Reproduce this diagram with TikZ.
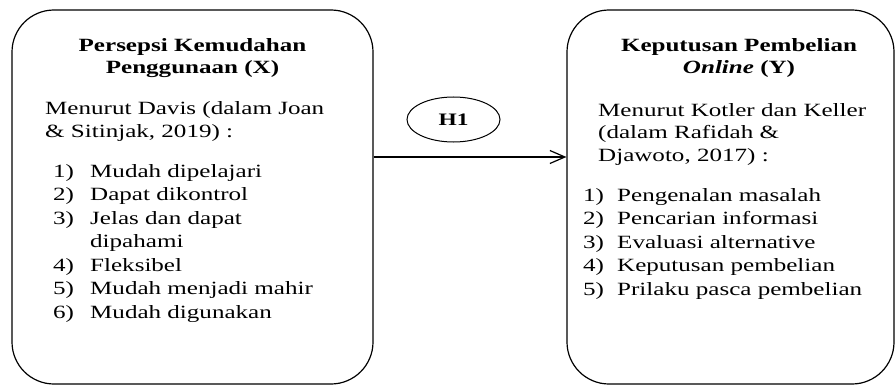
\documentclass[tikz,border=0pt]{standalone}
\usepackage{fontspec}
\setmainfont[FakeStretch=1.34]{Liberation Serif}
\usetikzlibrary{arrows.meta,shapes.geometric}
\tikzset{
  boxstyle/.style={draw=black, line width=1.2pt, rounded corners=42pt, inner sep=0pt},
  txt/.style={anchor=base west, inner sep=0pt, font=\fontsize{18.7}{23.4}\selectfont},
  ttl/.style={anchor=base, inner sep=0pt, font=\fontsize{18.7}{23.4}\selectfont\bfseries},
  hyp/.style={draw=black, line width=1pt, ellipse, minimum width=93pt, minimum height=45pt, inner sep=0pt, font=\fontsize{17.5}{17.5}\selectfont\bfseries},
  arr/.style={line width=1.2pt, -{Straight Barb[length=15pt,width=13pt,line width=1.2pt]}}
}
\begin{document}
\begin{tikzpicture}[x=1pt,y=-1pt]
\useasboundingbox[fill=white] (0,0) rectangle (896,385);
% boxes
\node[boxstyle, minimum width=361pt, minimum height=374pt] (boxX) at (192.5,197) {};
\node[boxstyle, minimum width=327pt, minimum height=374pt] (boxY) at (730.5,197) {};
% hypothesis
\node[hyp] (h1) at (453.5,119.5) {H1};
\coordinate (ar) at (0,157);
\draw[arr] (boxX.east |- ar) -- (boxY.west |- ar);
% left text
\node[ttl] (xt1) at (192.5,52) {Persepsi Kemudahan};
\node[ttl] (xt2) at (192.5,74) {Penggunaan (X)};
\node[txt] (xa1) at (45,115) {Menurut Davis (dalam Joan};
\node[txt] (xa2) at (45,138) {\& Sitinjak, 2019) :};
\node[txt] (xn1) at (53,177) {1)};
\node[txt] (xl1) at (90,177) {Mudah dipelajari};
\node[txt] (xn2) at (53,200.5) {2)};
\node[txt] (xl2) at (90,200.5) {Dapat dikontrol};
\node[txt] (xn3) at (53,224) {3)};
\node[txt] (xl3) at (90,224) {Jelas dan dapat};
\node[txt] (xl3b) at (90,247.5) {dipahami};
\node[txt] (xn4) at (53,271) {4)};
\node[txt] (xl4) at (90,271) {Fleksibel};
\node[txt] (xn5) at (53,294.5) {5)};
\node[txt] (xl5) at (90,294.5) {Mudah menjadi mahir};
\node[txt] (xn6) at (53,318) {6)};
\node[txt] (xl6) at (90,318) {Mudah digunakan};
% right text
\node[ttl] (yt1) at (739,52) {Keputusan Pembelian};
\node[ttl] (yt2) at (739,73.5) {\textit{Online} (Y)};
\node[txt] (ya1) at (598,117) {Menurut Kotler dan Keller};
\node[txt] (ya2) at (598,139) {(dalam Rafidah \&};
\node[txt] (ya3) at (598,161) {Djawoto, 2017) :};
\node[txt] (yn1) at (583,201) {1)};
\node[txt] (yl1) at (617,201) {Pengenalan masalah};
\node[txt] (yn2) at (583,224.5) {2)};
\node[txt] (yl2) at (617,224.5) {Pencarian informasi};
\node[txt] (yn3) at (583,248) {3)};
\node[txt] (yl3) at (617,248) {Evaluasi alternative};
\node[txt] (yn4) at (583,271.5) {4)};
\node[txt] (yl4) at (617,271.5) {Keputusan pembelian};
\node[txt] (yn5) at (583,295) {5)};
\node[txt] (yl5) at (617,295) {Prilaku pasca pembelian};
\end{tikzpicture}
\end{document}
